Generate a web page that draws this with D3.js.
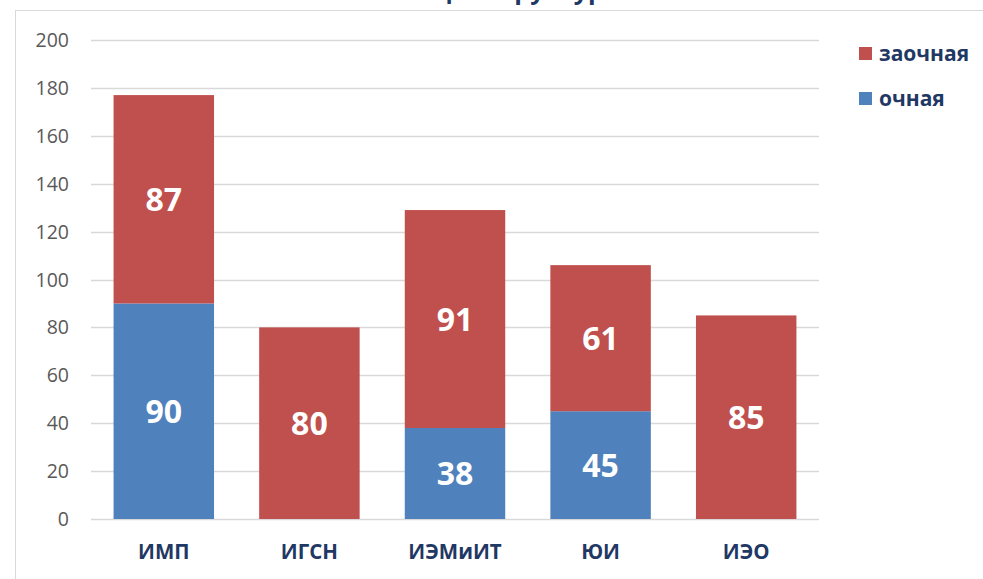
<!DOCTYPE html>
<html>
<head>
<meta charset="utf-8">
<script src="https://cdn.jsdelivr.net/npm/d3@7"></script>
<style>
  body { margin: 0; background: #fff; }
  svg { display: block; font-family: "Open Sans", "Noto Sans", sans-serif; }
</style>
</head>
<body>
<div id="chart"></div>
<script>
const categories = ["ИМП", "ИГСН", "ИЭМиИТ", "ЮИ", "ИЭО"]
const ochnaya = [90, 0, 38, 45, 0]
const zaochnaya = [87, 80, 91, 61, 85]
const yTicks = [0, 20, 40, 60, 80, 100, 120, 140, 160, 180, 200]
const seriesNames = ["очная", "заочная"]
const seriesColors = ["#4F81BD", "#C0504D"]

const width = 983, height = 579
const plot = { left: 91, right: 819, top: 40, bottom: 519 }

const svg = d3.select("#chart").append("svg")
    .attr("width", width)
    .attr("height", height)

// frame of the chart area (cut by window at right and bottom)
svg.append("rect")
    .attr("x", 15.5).attr("y", 10.5)
    .attr("width", 990).attr("height", 600)
    .attr("fill", "none")
    .attr("stroke", "#d9d9d9")

// title, mostly cut off at the top
svg.append("text")
    .attr("x", 505).attr("y", -1)
    .attr("text-anchor", "middle")
    .style("font-weight", "bold")
    .style("font-size", "25px")
    .style("fill", "#1F3864")
    .text("Общая структура")

const x = d3.scaleBand()
    .domain(categories)
    .range([plot.left, plot.right])
    .paddingInner(0.31)
    .paddingOuter(0.155)

const y = d3.scaleLinear()
    .domain([0, 200])
    .range([plot.bottom, plot.top])

// gridlines
svg.append("g")
    .selectAll("line")
    .data(yTicks)
    .join("line")
    .attr("x1", plot.left).attr("x2", plot.right)
    .attr("y1", d => Math.round(y(d)) + 0.5)
    .attr("y2", d => Math.round(y(d)) + 0.5)
    .attr("stroke", "#d9d9d9")
    .attr("stroke-width", 1.5)

// y axis labels
svg.append("g")
    .selectAll("text")
    .data(yTicks)
    .join("text")
    .attr("x", 69)
    .attr("y", d => y(d))
    .attr("dy", "0.36em")
    .attr("text-anchor", "end")
    .style("font-size", "19.5px")
    .style("fill", "#595959")
    .text(d => d)

const stackData = categories.map((c, i) => ({ cat: c, "очная": ochnaya[i], "заочная": zaochnaya[i] }))
const stacked = d3.stack().keys(seriesNames)(stackData)

const groups = svg.append("g")
    .selectAll("g")
    .data(stacked)
    .join("g")
    .attr("fill", (d, i) => seriesColors[i])

groups.selectAll("rect")
    .data(d => d)
    .join("rect")
    .attr("x", d => x(d.data.cat))
    .attr("width", x.bandwidth())
    .attr("y", d => y(d[1]))
    .attr("height", d => y(d[0]) - y(d[1]))

// data labels
groups.selectAll("text")
    .data(d => d.filter(v => v[1] - v[0] > 0))
    .join("text")
    .attr("x", d => x(d.data.cat) + x.bandwidth() / 2)
    .attr("y", d => y((d[0] + d[1]) / 2))
    .attr("dy", "0.36em")
    .attr("text-anchor", "middle")
    .style("font-size", "32px")
    .style("font-weight", "bold")
    .style("fill", "white")
    .text(d => d[1] - d[0])

// category labels
svg.append("g")
    .selectAll("text")
    .data(categories)
    .join("text")
    .attr("x", d => x(d) + x.bandwidth() / 2)
    .attr("y", 552)
    .attr("dy", "0.36em")
    .attr("text-anchor", "middle")
    .style("font-size", "20.5px")
    .style("font-weight", "bold")
    .style("fill", "#1F3864")
    .text(d => d)

// legend (заочная on top)
const legendItems = [1, 0]
const legend = svg.append("g")
    .selectAll("g")
    .data(legendItems)
    .join("g")
    .attr("transform", (d, i) => `translate(859, ${47 + i * 45})`)

legend.append("rect")
    .attr("width", 13).attr("height", 13)
    .attr("fill", d => seriesColors[d])

legend.append("text")
    .attr("x", 20).attr("y", 6.5)
    .attr("dy", "0.36em")
    .style("font-size", "21px")
    .style("font-weight", "bold")
    .style("fill", "#1F3864")
    .text(d => seriesNames[d])
</script>
</body>
</html>
